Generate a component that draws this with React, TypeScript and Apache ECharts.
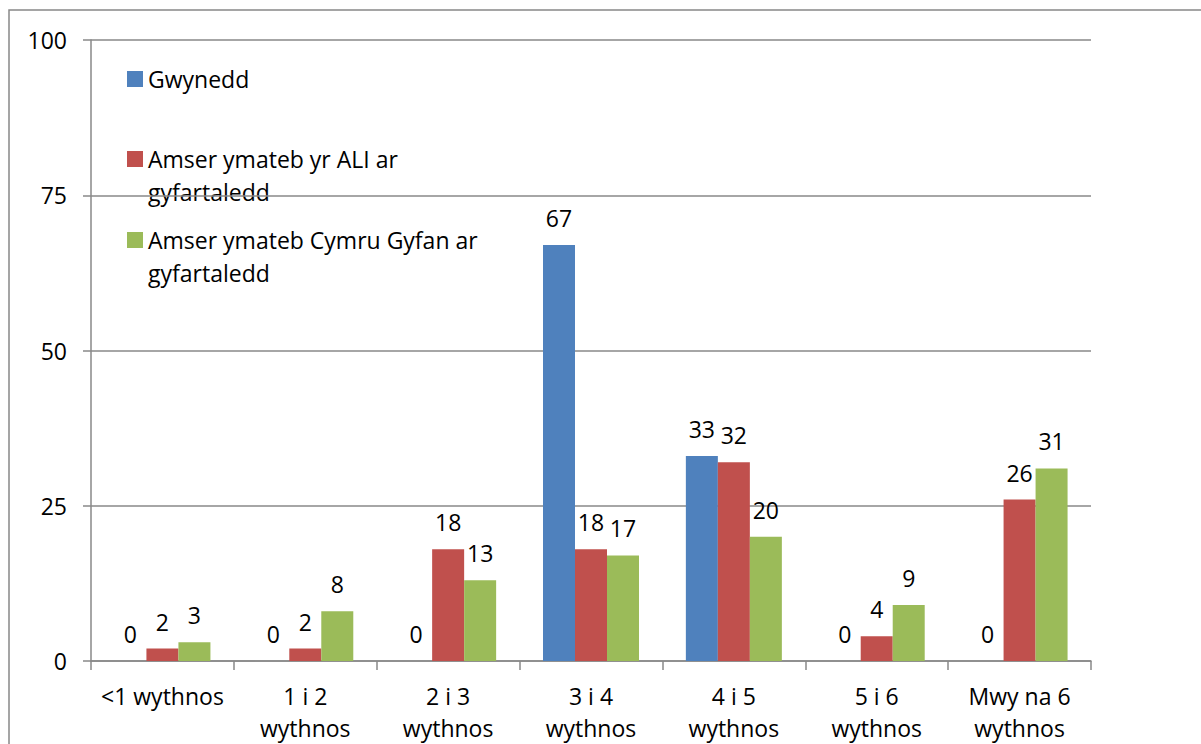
import React, { useEffect, useRef } from "react";
import * as echarts from "echarts";

const categories = [
  "<1 wythnos",
  "1 i 2\nwythnos",
  "2 i 3\nwythnos",
  "3 i 4\nwythnos",
  "4 i 5\nwythnos",
  "5 i 6\nwythnos",
  "Mwy na 6\nwythnos",
];
const seriesNames = [
  "Gwynedd",
  "Amser ymateb yr ALI ar\ngyfartaledd",
  "Amser ymateb Cymru Gyfan ar\ngyfartaledd",
];
const gwynedd = [0, 0, 0, 67, 33, 0, 0];
const ali = [2, 2, 18, 18, 32, 4, 26];
const cymru = [3, 8, 13, 17, 20, 9, 31];
const yTicks = [0, 25, 50, 75, 100];
const colors = ["#4F81BD", "#C0504D", "#9BBB59"];

const FONT = "'Open Sans', Lato, sans-serif";
const FS = 23;

export default function App() {
  const ref = useRef<HTMLDivElement>(null);
  useEffect(() => {
    if (!ref.current) return;
    const chart = echarts.init(ref.current, undefined, { renderer: "svg" });
    const values = [gwynedd, ali, cymru];
    const legendY = [79, 159, 240];
    const graphics: any[] = [
      {
        type: "rect",
        shape: { x: 9, y: 10, width: 1200, height: 740 },
        style: { fill: "none", stroke: "#888", lineWidth: 1.5 },
        silent: true,
      },
    ];
    seriesNames.forEach((n, i) => {
      graphics.push({
        type: "rect",
        shape: { x: 127, y: legendY[i] - 8, width: 16, height: 16 },
        style: { fill: colors[i] },
      });
      graphics.push({
        type: "text",
        x: 148,
        y: legendY[i] - 16.5,
        style: {
          text: n,
          font: `${FS}px ${FONT}`,
          lineHeight: 33,
          fill: "#000",
          verticalAlign: "top",
          align: "left",
        },
      });
    });
    chart.setOption({
      animation: false,
      backgroundColor: "#fff",
      grid: { left: 91, top: 40, right: 110, bottom: 83, containLabel: false },
      graphic: graphics,
      xAxis: {
        type: "category",
        data: categories,
        axisLine: { show: true, lineStyle: { color: "#888", width: 1.5 } },
        axisTick: { show: true, length: 9, lineStyle: { color: "#888", width: 1.5 } },
        axisLabel: {
          interval: 0,
          color: "#000",
          fontFamily: FONT,
          fontSize: FS,
          lineHeight: 32,
          margin: 19,
        },
        splitLine: { show: false },
      },
      yAxis: {
        type: "value",
        min: yTicks[0],
        max: yTicks[yTicks.length - 1],
        interval: 25,
        axisLine: { show: true, lineStyle: { color: "#888", width: 1.5 } },
        axisTick: { show: true, length: 8, lineStyle: { color: "#888", width: 1.5 } },
        axisLabel: {
          color: "#000",
          fontFamily: FONT,
          fontSize: FS,
          margin: 24,
        },
        splitLine: { show: true, lineStyle: { color: "#888", width: 1.5 } },
      },
      series: seriesNames.map((n, i) => ({
        name: n,
        type: "bar",
        data: values[i],
        barWidth: 32,
        barGap: "0%",
        itemStyle: { color: colors[i] },
        label: {
          show: true,
          position: "top",
          distance: 15,
          color: "#000",
          fontFamily: FONT,
          fontSize: FS,
          lineHeight: 24,
        },
      })),
    });
    return () => chart.dispose();
  }, []);
  return (
    <div
      ref={ref}
      style={{ position: "fixed", left: 0, top: 0, width: 1201, height: 744 }}
    />
  );
}
